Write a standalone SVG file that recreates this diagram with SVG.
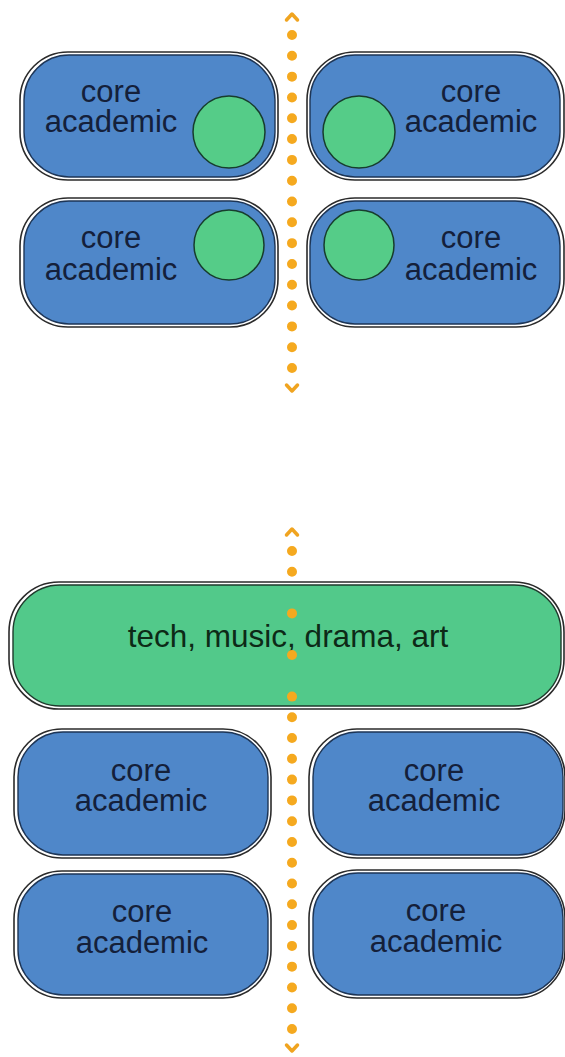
<svg xmlns="http://www.w3.org/2000/svg" width="565" height="1057" viewBox="0 0 565 1057">
<style>
.outer{fill:#ffffff;stroke:#2b2b2b;stroke-width:1.6}
.blue{fill:#4f87c9;stroke:#1d3556;stroke-width:1.4}
.green{fill:#52c98a;stroke:#1e3a2c;stroke-width:1.4}
.circ{fill:#55cc88;stroke:#173d2c;stroke-width:1.5}
.lbl{font-family:"Liberation Sans",Arial,sans-serif;font-size:31px;fill:#14203a;text-anchor:middle}
.lblg{font-family:"Liberation Sans",Arial,sans-serif;font-size:31.5px;fill:#0d2a17;text-anchor:middle}
.dots{stroke:#f5a91f;stroke-width:10;stroke-linecap:round;fill:none}
.chev{stroke:#f0a420;stroke-width:3.5;fill:none;stroke-linecap:round;stroke-linejoin:round}
.dot{fill:#f5a91f}
</style>
<rect width="565" height="1057" fill="#ffffff"/>
<g id="connectors">
<path class="dots" d="M292,35 V369" stroke-dasharray="0 20.8125"/>
<polyline class="chev" points="286.5,20 292,14 297.5,20"/>
<polyline class="chev" points="286.5,385 292,391 297.5,385"/>
<path class="dots" d="M292,551 V1030" stroke-dasharray="0 20.783"/>
<polyline class="chev" points="286.5,535 292,529 297.5,535"/>
<polyline class="chev" points="286.5,1045 292,1051 297.5,1045"/>
</g>
<g id="node-tl">
<rect class="outer" x="20" y="52" width="258" height="128" rx="48"/>
<rect class="blue" x="24" y="55" width="251" height="122" rx="45"/>
<circle class="circ" cx="229" cy="132" r="36"/>
<text class="lbl" x="111" y="102">core<tspan x="111" dy="30">academic</tspan></text>
</g>
<g id="node-tr">
<rect class="outer" x="307" y="52" width="257" height="128" rx="48"/>
<rect class="blue" x="310" y="55" width="250" height="122" rx="45"/>
<circle class="circ" cx="359" cy="132" r="36"/>
<text class="lbl" x="471" y="102">core<tspan x="471" dy="30">academic</tspan></text>
</g>
<g id="node-ml">
<rect class="outer" x="20" y="198" width="258" height="129" rx="48"/>
<rect class="blue" x="24" y="201" width="251" height="123" rx="45"/>
<circle class="circ" cx="229" cy="245" r="35"/>
<text class="lbl" x="111" y="248">core<tspan x="111" dy="32">academic</tspan></text>
</g>
<g id="node-mr">
<rect class="outer" x="307" y="198" width="257" height="129" rx="48"/>
<rect class="blue" x="310" y="201" width="250" height="123" rx="45"/>
<circle class="circ" cx="359" cy="245" r="35"/>
<text class="lbl" x="471" y="248">core<tspan x="471" dy="32">academic</tspan></text>
</g>
<g id="node-arts">
<rect class="outer" x="9" y="582" width="555" height="127" rx="50"/>
<rect class="green" x="13" y="585" width="548" height="121" rx="47"/>
<text class="lblg" x="288" y="647">tech, music, drama, art</text>
</g>
<g id="connector-overlay">
<circle class="dot" cx="292" cy="613.4" r="5"/>
<circle class="dot" cx="292" cy="655" r="5"/>
<circle class="dot" cx="292" cy="696.6" r="5"/>
</g>
<g id="node-bl1">
<rect class="outer" x="14" y="729" width="257" height="129" rx="48"/>
<rect class="blue" x="18" y="732" width="250" height="123" rx="45"/>
<text class="lbl" x="141" y="781">core<tspan x="141" dy="30">academic</tspan></text>
</g>
<g id="node-br1">
<rect class="outer" x="309" y="729" width="256" height="129" rx="48"/>
<rect class="blue" x="313" y="732" width="250" height="123" rx="45"/>
<text class="lbl" x="434" y="781">core<tspan x="434" dy="30">academic</tspan></text>
</g>
<g id="node-bl2">
<rect class="outer" x="14" y="871" width="257" height="127" rx="48"/>
<rect class="blue" x="18" y="874" width="250" height="121" rx="45"/>
<text class="lbl" x="142" y="922">core<tspan x="142" dy="31">academic</tspan></text>
</g>
<g id="node-br2">
<rect class="outer" x="309" y="870" width="256" height="128" rx="48"/>
<rect class="blue" x="313" y="873" width="250" height="122" rx="45"/>
<text class="lbl" x="436" y="921">core<tspan x="436" dy="31">academic</tspan></text>
</g>
</svg>
